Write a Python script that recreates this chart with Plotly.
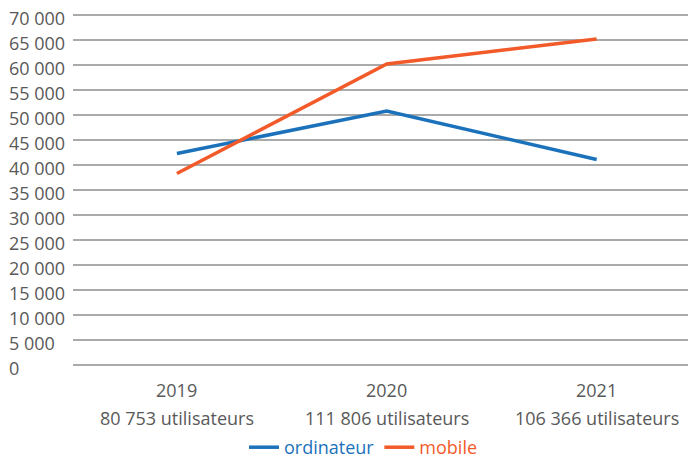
import plotly.graph_objects as go

years = ["2019", "2020", "2021"]
users = ["80 753 utilisateurs", "111 806 utilisateurs", "106 366 utilisateurs"]
ordinateur = [42300, 50800, 41100]
mobile = [38300, 60200, 65200]
y_ticks = [0, 5000, 10000, 15000, 20000, 25000, 30000, 35000, 40000, 45000, 50000, 55000, 60000, 65000, 70000]
y_labels = ["0", "5 000", "10 000", "15 000", "20 000", "25 000", "30 000", "35 000", "40 000",
            "45 000", "50 000", "55 000", "60 000", "65 000", "70 000"]

BLUE = "#1b72bb"
ORANGE = "#f25a29"
TEXT = "#595959"
FONT = "Open Sans"
FS = 18

fig = go.Figure()
fig.add_trace(go.Scatter(x=list(range(len(years))), y=ordinateur, mode="lines",
                         name=f"<span style='color:{BLUE}'>ordinateur</span>",
                         line=dict(color=BLUE, width=3.5)))
fig.add_trace(go.Scatter(x=list(range(len(years))), y=mobile, mode="lines",
                         name=f"<span style='color:{ORANGE}'>mobile</span>",
                         line=dict(color=ORANGE, width=3.5)))

annotations = []
for v, lab in zip(y_ticks, y_labels):
    annotations.append(dict(x=0, xref="paper", y=v, yref="y", text=lab, showarrow=False,
                            xanchor="left", yanchor="middle", xshift=-66, yshift=-3,
                            font=dict(family=FONT, size=FS, color=TEXT)))
for i, (yr, us) in enumerate(zip(years, users)):
    annotations.append(dict(x=i, xref="x", y=0, yref="paper", text=yr, showarrow=False,
                            xanchor="center", yanchor="middle", yshift=-22,
                            font=dict(family=FONT, size=FS, color=TEXT)))
    annotations.append(dict(x=i, xref="x", y=0, yref="paper", text=us, showarrow=False,
                            xanchor="center", yanchor="middle", yshift=-50,
                            font=dict(family=FONT, size=FS, color=TEXT)))

fig.update_layout(
    width=688, height=454,
    margin=dict(l=65, r=7, t=4, b=94, autoexpand=False),
    paper_bgcolor="white", plot_bgcolor="white",
    font=dict(family=FONT, size=FS, color=TEXT),
    showlegend=True,
    legend=dict(orientation="h", x=0.4716, xanchor="center", y=-0.2753, yanchor="bottom",
                font=dict(family=FONT, size=FS), itemwidth=30),
    annotations=annotations,
    xaxis=dict(range=[-0.495, 2.44], showticklabels=False, showgrid=False, zeroline=False,
               showline=False, fixedrange=True),
    yaxis=dict(range=[-600, 70600], tickvals=y_ticks, showticklabels=False, showgrid=True,
               gridcolor="#aaaaaa", gridwidth=2, zeroline=False, showline=False),
)

fig.write_html("out.html")
